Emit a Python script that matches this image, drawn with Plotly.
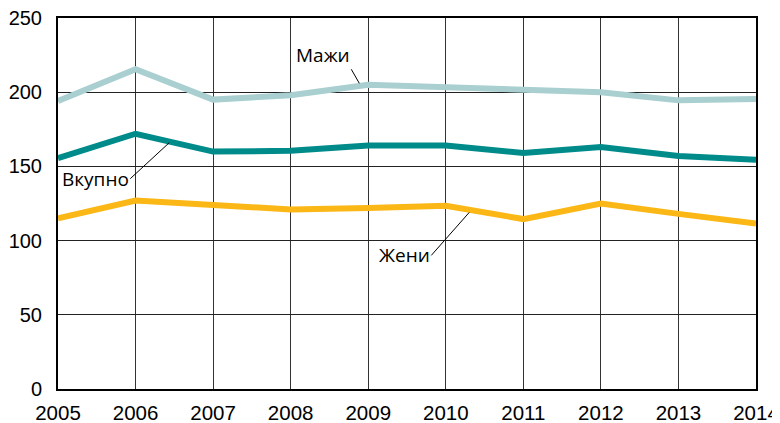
import plotly.graph_objects as go
from plotly.graph_objs import Figure

years = [2005, 2006, 2007, 2008, 2009, 2010, 2011, 2012, 2013, 2014]
mazhi = [194, 215.5, 195, 198, 205, 203, 202, 200, 194.5, 195.5]
vkupno = [155.5, 172, 160, 160.5, 164, 164, 159, 163, 157, 154.5]
zheni = [115, 127, 124, 121, 122, 123.5, 114.5, 125, 118, 111.5]

y_ticks = [0, 50, 100, 150, 200, 250]


def generate_chart() -> Figure:
    """
    Line chart with three series and leader-line labels.
    """
    fig = go.Figure()
    series = [
        ("Жени", zheni, "#fbb716"),
        ("Вкупно", vkupno, "#008b8b"),
        ("Мажи", mazhi, "#aacfd0"),
    ]
    for name, values, color in series:
        fig.add_trace(go.Scatter(
            x=years, y=values, name=name, mode="lines",
            line=dict(color=color, width=6),
        ))

    label_font = dict(family="Open Sans", size=19, color="black")
    labels = [
        # text, x tip, y tip, ax, ay, yanchor
        ("Мажи", 2008.885, 206, -8, -14, "bottom"),
        ("Вкупно", 2006.435, 166, -39, 36, "middle"),
        ("Жени", 2010.303, 119, -38, 43, "middle"),
    ]
    for text, x, y, ax, ay, yanchor in labels:
        fig.add_annotation(
            x=x, y=y, text=text, showarrow=True, arrowhead=0,
            arrowwidth=1, arrowcolor="black", ax=ax, ay=ay,
            xanchor="right", yanchor=yanchor, font=label_font,
            borderpad=0, standoff=0,
        )

    x_font = dict(family="Liberation Sans, Arial", size=20.5, color="black")
    y_font = dict(family="Liberation Sans, Arial", size=20, color="black")
    fig.update_xaxes(
        range=[2005, 2014], tickvals=years, showgrid=True,
        gridcolor="#333333", gridwidth=1, showline=True, linecolor="black",
        linewidth=2, mirror=True, zeroline=False, tickfont=x_font,
        ticklabelstandoff=4, automargin=False, ticklabeloverflow="allow",
    )
    fig.update_yaxes(
        range=[0, 250], tickvals=y_ticks, showgrid=True,
        gridcolor="#222222", gridwidth=1, showline=True, linecolor="black",
        linewidth=2, mirror=True, zeroline=False, tickfont=y_font,
        ticklabelstandoff=10, automargin=False, ticklabeloverflow="allow",
    )
    # the page body adds an 8px offset, so size and margins are shifted to fit
    fig.update_layout(
        width=772, height=415, showlegend=False,
        plot_bgcolor="white", paper_bgcolor="white",
        margin=dict(l=50, r=24, t=10, b=34),
    )
    return fig


fig = generate_chart()
fig.write_html("out.html")
